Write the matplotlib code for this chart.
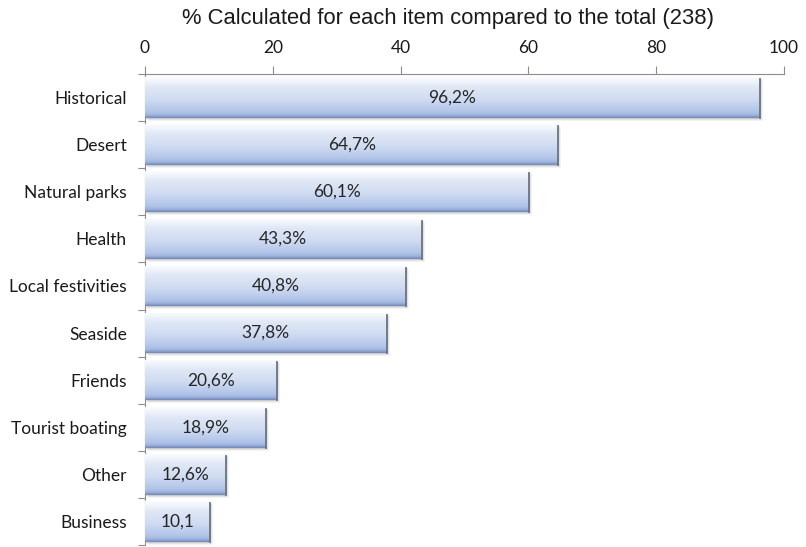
import matplotlib.pyplot as plt
import numpy as np
from matplotlib.colors import LinearSegmentedColormap
from matplotlib.patches import Rectangle

categories = ["Historical", "Desert", "Natural parks", "Health", "Local festivities",
              "Seaside", "Friends", "Tourist boating", "Other", "Business"]
values = [96.2, 64.7, 60.1, 43.3, 40.8, 37.8, 20.6, 18.9, 12.6, 10.1]
labels = ["96,2%", "64,7%", "60,1%", "43,3%", "40,8%", "37,8%", "20,6%", "18,9%", "12,6%", "10,1"]
xticks = [0, 20, 40, 60, 80, 100]

plt.rcParams['font.family'] = ['Lato', 'DejaVu Sans']

fig = plt.figure(figsize=(8.06, 5.47), dpi=100)
ax = fig.add_axes([145 / 806, 2 / 547, 639 / 806, 471 / 547])

y = np.arange(len(categories))
h = 0.86
bars = ax.barh(y, values, height=h, color='none', edgecolor='none', zorder=3)

# bevel-like vertical gradient for each bar
cmap = LinearSegmentedColormap.from_list("bev", [
    (0.0, '#fbfcff'), (0.1, '#f0f4fb'), (0.25, '#e0e8f6'), (0.55, '#cfdbf1'),
    (0.85, '#b1c4e8'), (0.93, '#9fb5df'), (1.0, '#7589b8')])
grad = np.linspace(0, 1, 100).reshape(-1, 1)

px_x = 100 / 639   # data units per pixel
px_y = 10 / 471

for bar, v, yi, lab in zip(bars, values, y, labels):
    top = yi - h / 2
    bot = yi + h / 2
    # soft drop shadow
    for k, a in [(3, 0.07), (2, 0.11), (1, 0.17)]:
        ax.add_patch(Rectangle((k * px_x, top + k * px_y), v, h, facecolor='#55595f',
                               edgecolor='none', alpha=a, zorder=2))
    im = ax.imshow(grad, cmap=cmap, aspect='auto', extent=(0, v, bot, top),
                   origin='upper', interpolation='bilinear', zorder=3)
    im.set_clip_path(bar)
    # dark right edge
    ax.plot([v, v], [top + 2 * px_y, bot], color='#6b7382', lw=1.3, zorder=4)
    ax.text(v / 2, yi, lab, ha='center', va='center',
            fontsize=12.5, color='#262626', zorder=5)

ax.set_xlim(0, 100)
ax.set_ylim(len(categories) - 0.5, -0.5)

ax.xaxis.tick_top()
ax.set_xticks(xticks)
ax.set_xticklabels([str(t) for t in xticks], fontsize=12.5, color='#1a1a1a')
ax.tick_params(axis='x', direction='out', length=6, width=0.8, color='#8c8c8c', pad=7)

ax.set_yticks(y)
ax.set_yticklabels(categories, fontsize=12.5, color='#1a1a1a')
ax.set_yticks(np.arange(-0.5, len(categories)), minor=True)
ax.tick_params(axis='y', which='major', length=0, pad=13)
ax.tick_params(axis='y', which='minor', direction='out', length=5, width=0.8, color='#8c8c8c')

for s in ['right', 'bottom']:
    ax.spines[s].set_visible(False)
for s in ['top', 'left']:
    ax.spines[s].set_color('#8c8c8c')
    ax.spines[s].set_linewidth(0.8)

fig.text(0.556, 0.967, "% Calculated for each item compared to the total (238)",
         ha='center', va='center', fontsize=15.8, family='Liberation Sans', color='#1a1a1a')

fig.savefig("out.png", dpi=100)
